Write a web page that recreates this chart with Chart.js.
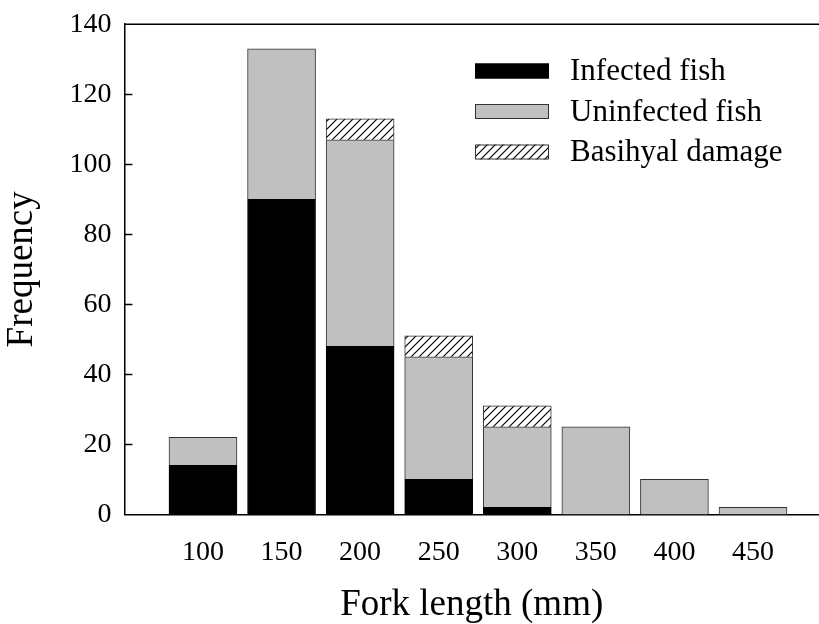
<!DOCTYPE html>
<html>
<head>
<meta charset="utf-8">
<script src="https://cdn.jsdelivr.net/npm/chart.js@4/dist/chart.umd.min.js"></script>
<style>
  html, body { margin: 0; padding: 0; background: #fff; }
  #wrap { width: 819px; height: 624px; }
</style>
</head>
<body>
<div id="wrap"><canvas id="chart" width="819" height="624"></canvas></div>
<script>
const forkLengths = [100, 150, 200, 250, 300, 350, 400, 450];
const infected = [14, 90, 48, 10, 2, 0, 0, 0];
const uninfected = [8, 43, 59, 35, 23, 25, 10, 2];
const basihyal = [0, 0, 6, 6, 6, 0, 0, 0];
const yTicks = [0, 20, 40, 60, 80, 100, 120, 140];

function hatch() {
  const c = document.createElement("canvas");
  c.width = 8;
  c.height = 8;
  const g = c.getContext("2d");
  g.fillStyle = "#fff";
  g.fillRect(0, 0, 8, 8);
  g.strokeStyle = "#000";
  g.lineWidth = 1.2;
  g.beginPath();
  g.moveTo(0, 8); g.lineTo(8, 0);
  g.moveTo(-2, 2); g.lineTo(2, -2);
  g.moveTo(6, 10); g.lineTo(10, 6);
  g.stroke();
  return g.createPattern(c, "repeat");
}
const hatchFill = hatch();

const toPoints = (arr) => forkLengths.map((x, i) => ({ x, y: arr[i] || null }));

const serif = "'Liberation Serif', 'DejaVu Serif', serif";

const frame = {
  id: "frame",
  afterDraw(chart) {
    const ctx = chart.ctx;
    const a = chart.chartArea;
    const y = chart.scales.y;
    ctx.save();
    ctx.strokeStyle = "#000";
    ctx.lineWidth = 1.5;
    ctx.beginPath();
    ctx.moveTo(a.left, a.top);
    ctx.lineTo(a.right, a.top);
    yTicks.slice(1, -1).forEach((v) => {
      const py = Math.round(y.getPixelForValue(v)) + 0.5;
      ctx.moveTo(a.left, py);
      ctx.lineTo(a.left + 8, py);
    });
    ctx.stroke();

    // legend
    const rows = [
      { label: chart.data.datasets[0].label, fill: "#000", stroke: "#000" },
      { label: chart.data.datasets[1].label, fill: "#c0c0c0", stroke: "#333" },
      { label: chart.data.datasets[2].label, fill: hatchFill, stroke: "#333" },
    ];
    ctx.font = "31px " + serif;
    ctx.textBaseline = "middle";
    ctx.fillStyle = "#000";
    rows.forEach((r, i) => {
      const cy = 71 + i * 40.5;
      ctx.fillStyle = r.fill;
      ctx.fillRect(475, cy - 7.5, 74, 15);
      ctx.strokeStyle = r.stroke;
      ctx.lineWidth = 1;
      ctx.strokeRect(475.5, cy - 7, 73, 14);
      ctx.fillStyle = "#000";
      ctx.fillText(r.label, 570, cy + 1);
    });
    ctx.restore();
  },
};

new Chart(document.getElementById("chart").getContext("2d"), {
  type: "bar",
  data: {
    datasets: [
      {
        label: "Infected fish",
        data: toPoints(infected),
        backgroundColor: "#000",
        borderColor: "#000",
        borderWidth: 1,
      },
      {
        label: "Uninfected fish",
        data: toPoints(uninfected),
        backgroundColor: "#c0c0c0",
        borderColor: "#333",
        borderWidth: 1,
      },
      {
        label: "Basihyal damage",
        data: toPoints(basihyal),
        backgroundColor: hatchFill,
        borderColor: "#333",
        borderWidth: 1,
      },
    ],
  },
  options: {
    responsive: false,
    animation: false,
    barThickness: 68,
    layout: { padding: { top: 0, right: 0, bottom: 0, left: 0 } },
    plugins: { legend: { display: false }, tooltip: { enabled: false } },
    scales: {
      x: {
        type: "linear",
        stacked: true,
        offset: false,
        min: 50,
        max: 492,
        afterBuildTicks: (s) => { s.ticks = forkLengths.map((v) => ({ value: v })); },
        grid: { display: false, drawTicks: false, offset: false },
        border: { display: true, color: "#000", width: 1.5 },
        ticks: { color: "#000", font: { family: serif, size: 28 }, padding: 21, maxRotation: 0 },
        title: { display: true, text: "Fork length (mm)", color: "#000", font: { family: serif, size: 37, lineHeight: 1 }, padding: { top: -3, bottom: 0 } },
      },
      y: {
        stacked: true,
        min: 0,
        max: 140,
        afterBuildTicks: (s) => { s.ticks = yTicks.map((v) => ({ value: v })); },
        grid: { display: false, drawTicks: false },
        border: { display: true, color: "#000", width: 1.5 },
        ticks: { color: "#000", font: { family: serif, size: 28, lineHeight: 0.8 }, padding: 13 },
        title: { display: true, text: "Frequency", color: "#000", font: { family: serif, size: 37 }, padding: { top: 0, bottom: 12 } },
      },
    },
  },
  plugins: [frame],
});
</script>
</body>
</html>
